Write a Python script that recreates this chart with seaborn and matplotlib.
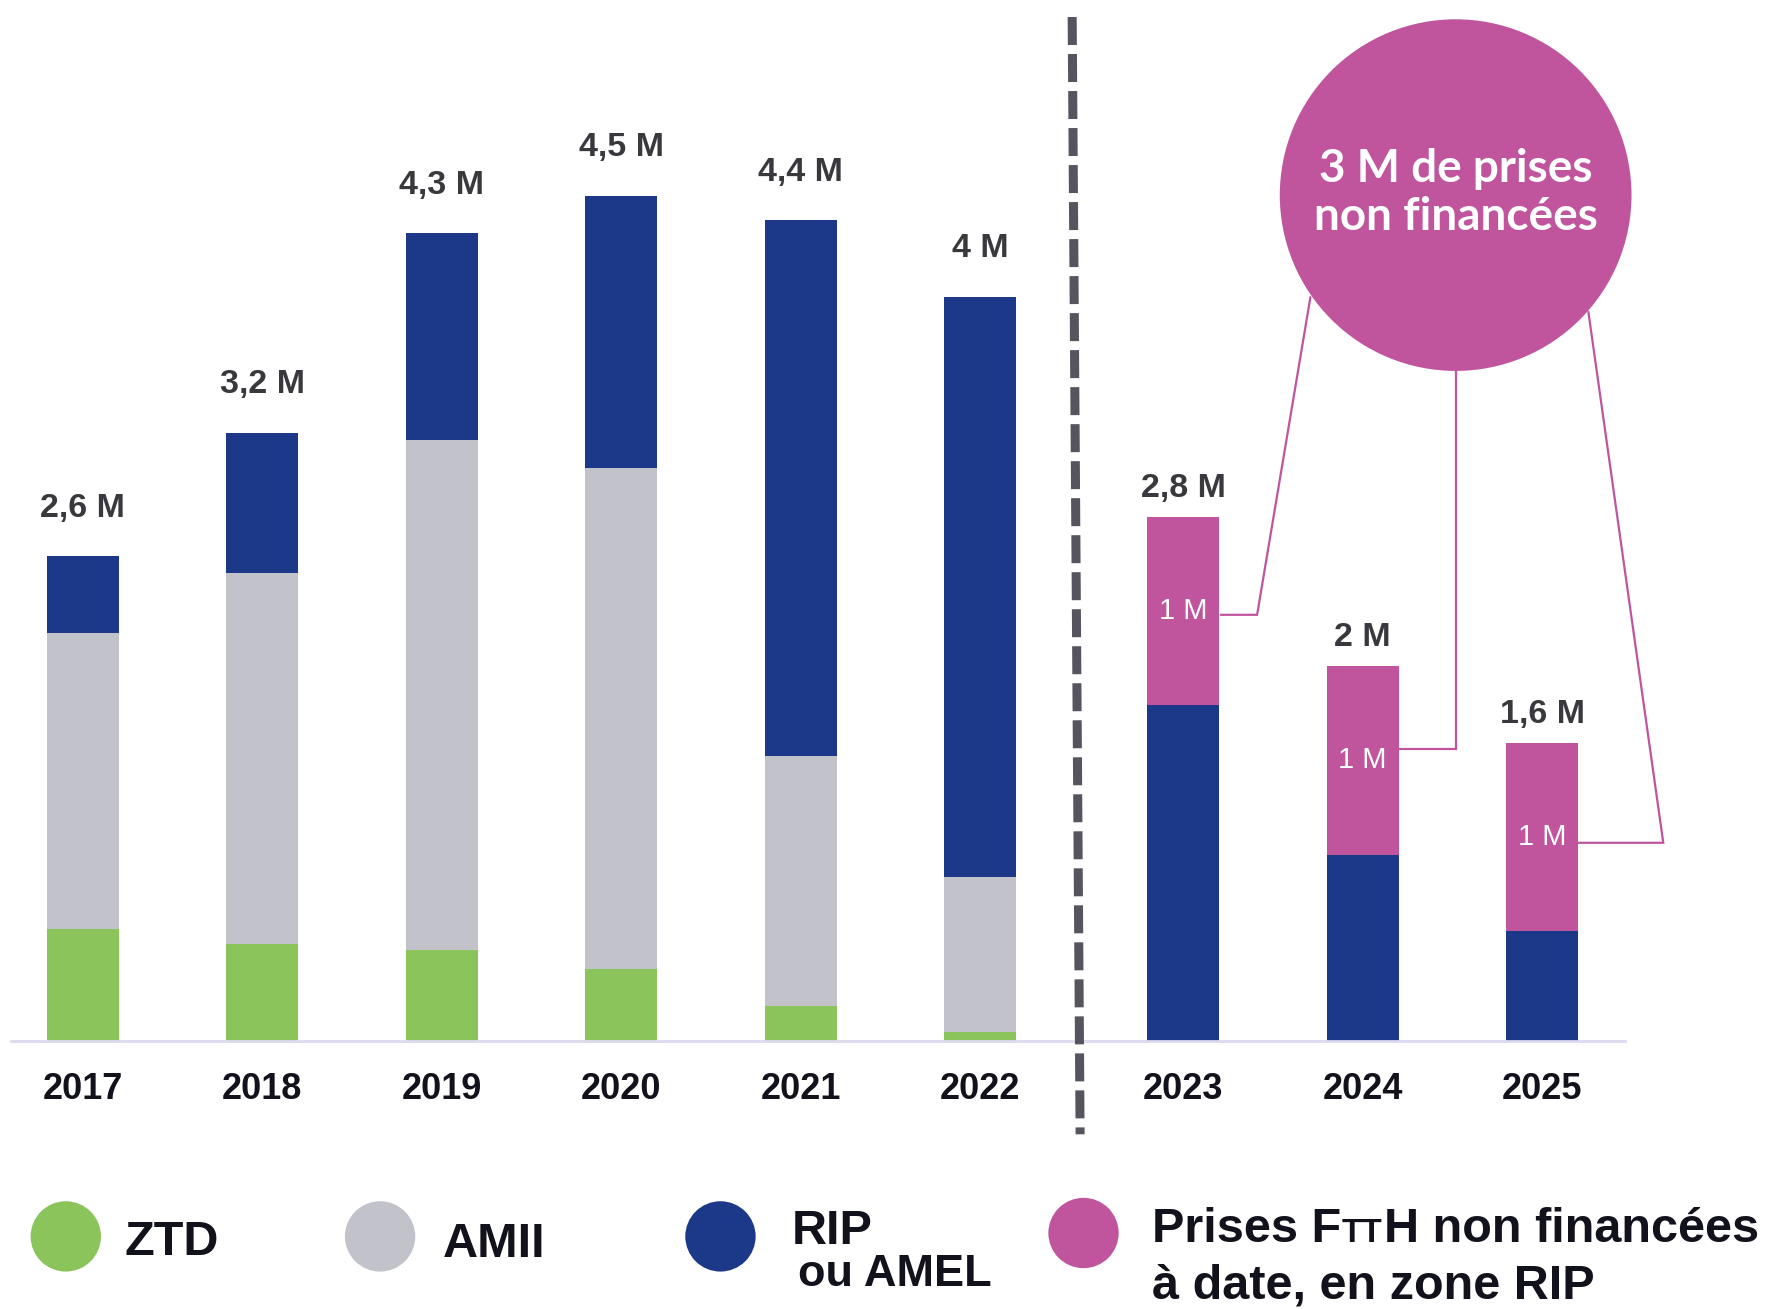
import numpy as np
import pandas as pd
import matplotlib
matplotlib.use("Agg")
import matplotlib.pyplot as plt
from matplotlib import font_manager
from matplotlib.patches import Circle
import seaborn as sns

# ---------------- data ----------------
years = ["2017", "2018", "2019", "2020", "2021", "2022", "2023", "2024", "2025"]
ztd = [0.60, 0.52, 0.49, 0.39, 0.19, 0.05, 0.0, 0.0, 0.0]
amii = [1.59, 1.99, 2.73, 2.68, 1.34, 0.83, 0.0, 0.0, 0.0]
rip = [0.41, 0.75, 1.11, 1.46, 2.87, 3.11, 1.80, 1.00, 0.59]
non_fin = [0.0, 0.0, 0.0, 0.0, 0.0, 0.0, 1.01, 1.01, 1.01]
total_labels = ["2,6 M", "3,2 M", "4,3 M", "4,5 M", "4,4 M", "4 M", "2,8 M", "2 M", "1,6 M"]
non_fin_labels = ["", "", "", "", "", "", "1 M", "1 M", "1 M"]
legend_labels = ["ZTD", "AMII", "RIP", "ou AMEL", "Prises F", "TT", "H non financées", "à date, en zone RIP"]
circle_text = "3 M de prises\nnon financées"

# ---------------- style ----------------
C_ZTD = "#8BC45A"
C_AMII = "#C2C2CA"
C_RIP = "#1B3988"
C_NF = "#C0559E"
C_TXT = "#38383D"
C_YEAR = "#12121C"

sns.set_theme(style="white")
names = {f.name for f in font_manager.fontManager.ttflist}
NARROW = "Liberation Sans Narrow" if "Liberation Sans Narrow" in names else "Liberation Sans"
plt.rcParams["font.family"] = ["Liberation Sans", "DejaVu Sans"]

W, H = 1568, 1154  # reference pixel frame used for layout
fig = plt.figure(figsize=(17.79, 13.09), dpi=100)
fig.patch.set_facecolor("white")

# x layout: gap between history and forecast
n_hist = 6
xpos = [i + (0.13 if i >= n_hist else 0.0) for i in range(len(years))]

base_px, px_per_m = 918, 164.5
ax = fig.add_axes([10 / W, (H - base_px) / H, 1422 / W, base_px / H])

df = pd.DataFrame({"x": xpos, "ztd": ztd, "amii": amii, "rip": rip, "nf": non_fin})
df["c1"] = df["ztd"]
df["c2"] = df["c1"] + df["amii"]
df["c3"] = df["c2"] + df["rip"]
df["c4"] = df["c3"] + df["nf"]

for col, colr in [("c4", C_NF), ("c3", C_RIP), ("c2", C_AMII), ("c1", C_ZTD)]:
    sns.barplot(data=df, x="x", y=col, native_scale=True, width=0.4, color=colr,
                saturation=1, errorbar=None, linewidth=0, ax=ax)

ax.set_xlim(-0.398, 8.59)
ax.set_ylim(0, base_px / px_per_m)
ax.set_xlabel("")
ax.set_ylabel("")
ax.set_yticks([])
ax.set_xticks(xpos)
ax.set_xticklabels(years, fontsize=26, fontweight="bold", color=C_YEAR)
ax.tick_params(axis="x", length=0, pad=22)
for s in ["top", "left", "right"]:
    ax.spines[s].set_visible(False)
ax.spines["bottom"].set_color("#DCDAF0")
ax.spines["bottom"].set_linewidth(2)
ax.patch.set_alpha(0)

# total labels
for i, (x, tot, lab) in enumerate(zip(xpos, df["c4"], total_labels)):
    off = 23.5 if i < n_hist else 9.5
    ax.annotate(lab, (x, tot), xytext=(0, off), textcoords="offset points",
                ha="center", va="bottom", fontsize=24.5, fontweight="bold", color=C_TXT)

# "1 M" labels inside pink segments
for x, lo, hi, lab in zip(xpos, df["c3"], df["c4"], non_fin_labels):
    if lab:
        ax.text(x, (lo + hi) / 2, lab, ha="center", va="center", fontsize=21, color="white")

# ---------------- overlay (decorations) ----------------
ov = fig.add_axes([0, 0, 1, 1], zorder=5)
ov.set_xlim(0, W)
ov.set_ylim(H, 0)
ov.axis("off")
ov.patch.set_alpha(0)

# dashed separator
ov.plot([945, 952], [15, 1000], color="#55545F", lw=6.5, dashes=(3.1, 1.0),
        solid_capstyle="butt", dash_capstyle="butt")

# big circle + connectors
ov.add_patch(Circle((1283, 172), 155, color=C_NF, lw=0))
ov.text(1283, 170, circle_text, ha="center", va="center", color="white",
        fontsize=33, fontweight="bold", family=["Lato", "DejaVu Sans"], linespacing=1.17)
lc = dict(color=C_NF, lw=1.6, solid_joinstyle="miter")
ov.plot([1155, 1108, 1076], [262, 542, 542], **lc)
ov.plot([1283, 1283, 1230], [327, 660, 660], **lc)
ov.plot([1400, 1466, 1390], [275, 743, 743], **lc)

# legend
for cx, cy, colr in [(58, 1090, C_ZTD), (335, 1090, C_AMII), (635, 1090, C_RIP), (955, 1087, C_NF)]:
    ov.add_patch(Circle((cx, cy), 31, color=colr, lw=0))

ov.text(110, 1106, legend_labels[0], fontsize=35, fontweight="bold", color=C_YEAR, va="baseline")
ov.text(390, 1108, legend_labels[1], fontsize=35, fontweight="bold", color=C_YEAR, va="baseline")
ov.text(698, 1097, legend_labels[2], fontsize=35, fontweight="bold", color=C_YEAR, va="baseline")
ov.text(703, 1134, legend_labels[3], fontsize=32.5, fontweight="bold", color=C_YEAR, va="baseline")

renderer = fig.canvas.get_renderer()
xcur = 1015
for txt, size in [(legend_labels[4], 35), (legend_labels[5], 24), (legend_labels[6], 35)]:
    t = ov.text(xcur, 1095, txt, fontsize=size, fontweight="bold", color=C_YEAR,
                va="baseline", family=[NARROW, "DejaVu Sans"])
    bb = t.get_window_extent(renderer)
    xcur = ov.transData.inverted().transform((bb.x1, bb.y0))[0] + 1
ov.text(1015, 1145, legend_labels[7], fontsize=35, fontweight="bold", color=C_YEAR,
        va="baseline", family=[NARROW, "DejaVu Sans"])

fig.savefig("out.png", dpi=100, facecolor="white")
